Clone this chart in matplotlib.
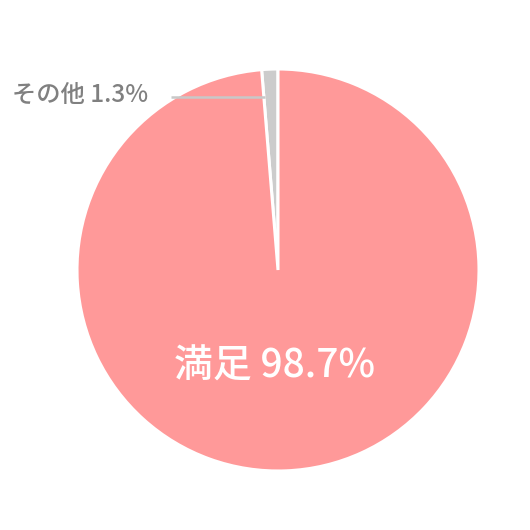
import matplotlib
matplotlib.use("Agg")
import matplotlib.pyplot as plt

plt.rcParams["font.family"] = ["Noto Sans CJK JP", "DejaVu Sans"]

# data
labels = ["その他", "満足"]
values = [1.3, 98.7]
colors = ["#cccccc", "#ff9999"]

W, H = 530, 530
cx, cy, r = 278, 270, 201

fig = plt.figure(figsize=(W / 100, H / 100), dpi=100)
ax = fig.add_axes([(cx - r) / W, (H - cy - r) / H, 2 * r / W, 2 * r / H])
ax.pie(values, colors=colors, startangle=90, counterclock=True,
       radius=1.0, wedgeprops=dict(edgecolor="white", linewidth=2.2))
ax.set_xlim(-1, 1)
ax.set_ylim(-1, 1)
ax.set_aspect("equal")
ax.axis("off")

def px(x, y):
    return (x - cx) / r, (cy - y) / r

# main label inside the big slice
mx, my = px(275, 367)
ax.text(mx, my, f"{labels[1]} {values[1]}%", color="white", fontsize=28,
        fontweight="medium", ha="center", va="center")

# small slice label with leader line
lx, ly = px(148, 95)
x0, _ = px(171, 97)
x1, _ = px(265, 97)
_, lly = px(0, 97)
ax.plot([x0, x1], [lly, lly], color="#c8c8c8", lw=1.8, solid_capstyle="butt")
ax.text(lx, ly, f"{labels[0]} {values[0]}%", color="#808080", fontsize=17.5,
        fontweight="medium", ha="right", va="center")

fig.savefig("out.png", dpi=100, facecolor="white")
